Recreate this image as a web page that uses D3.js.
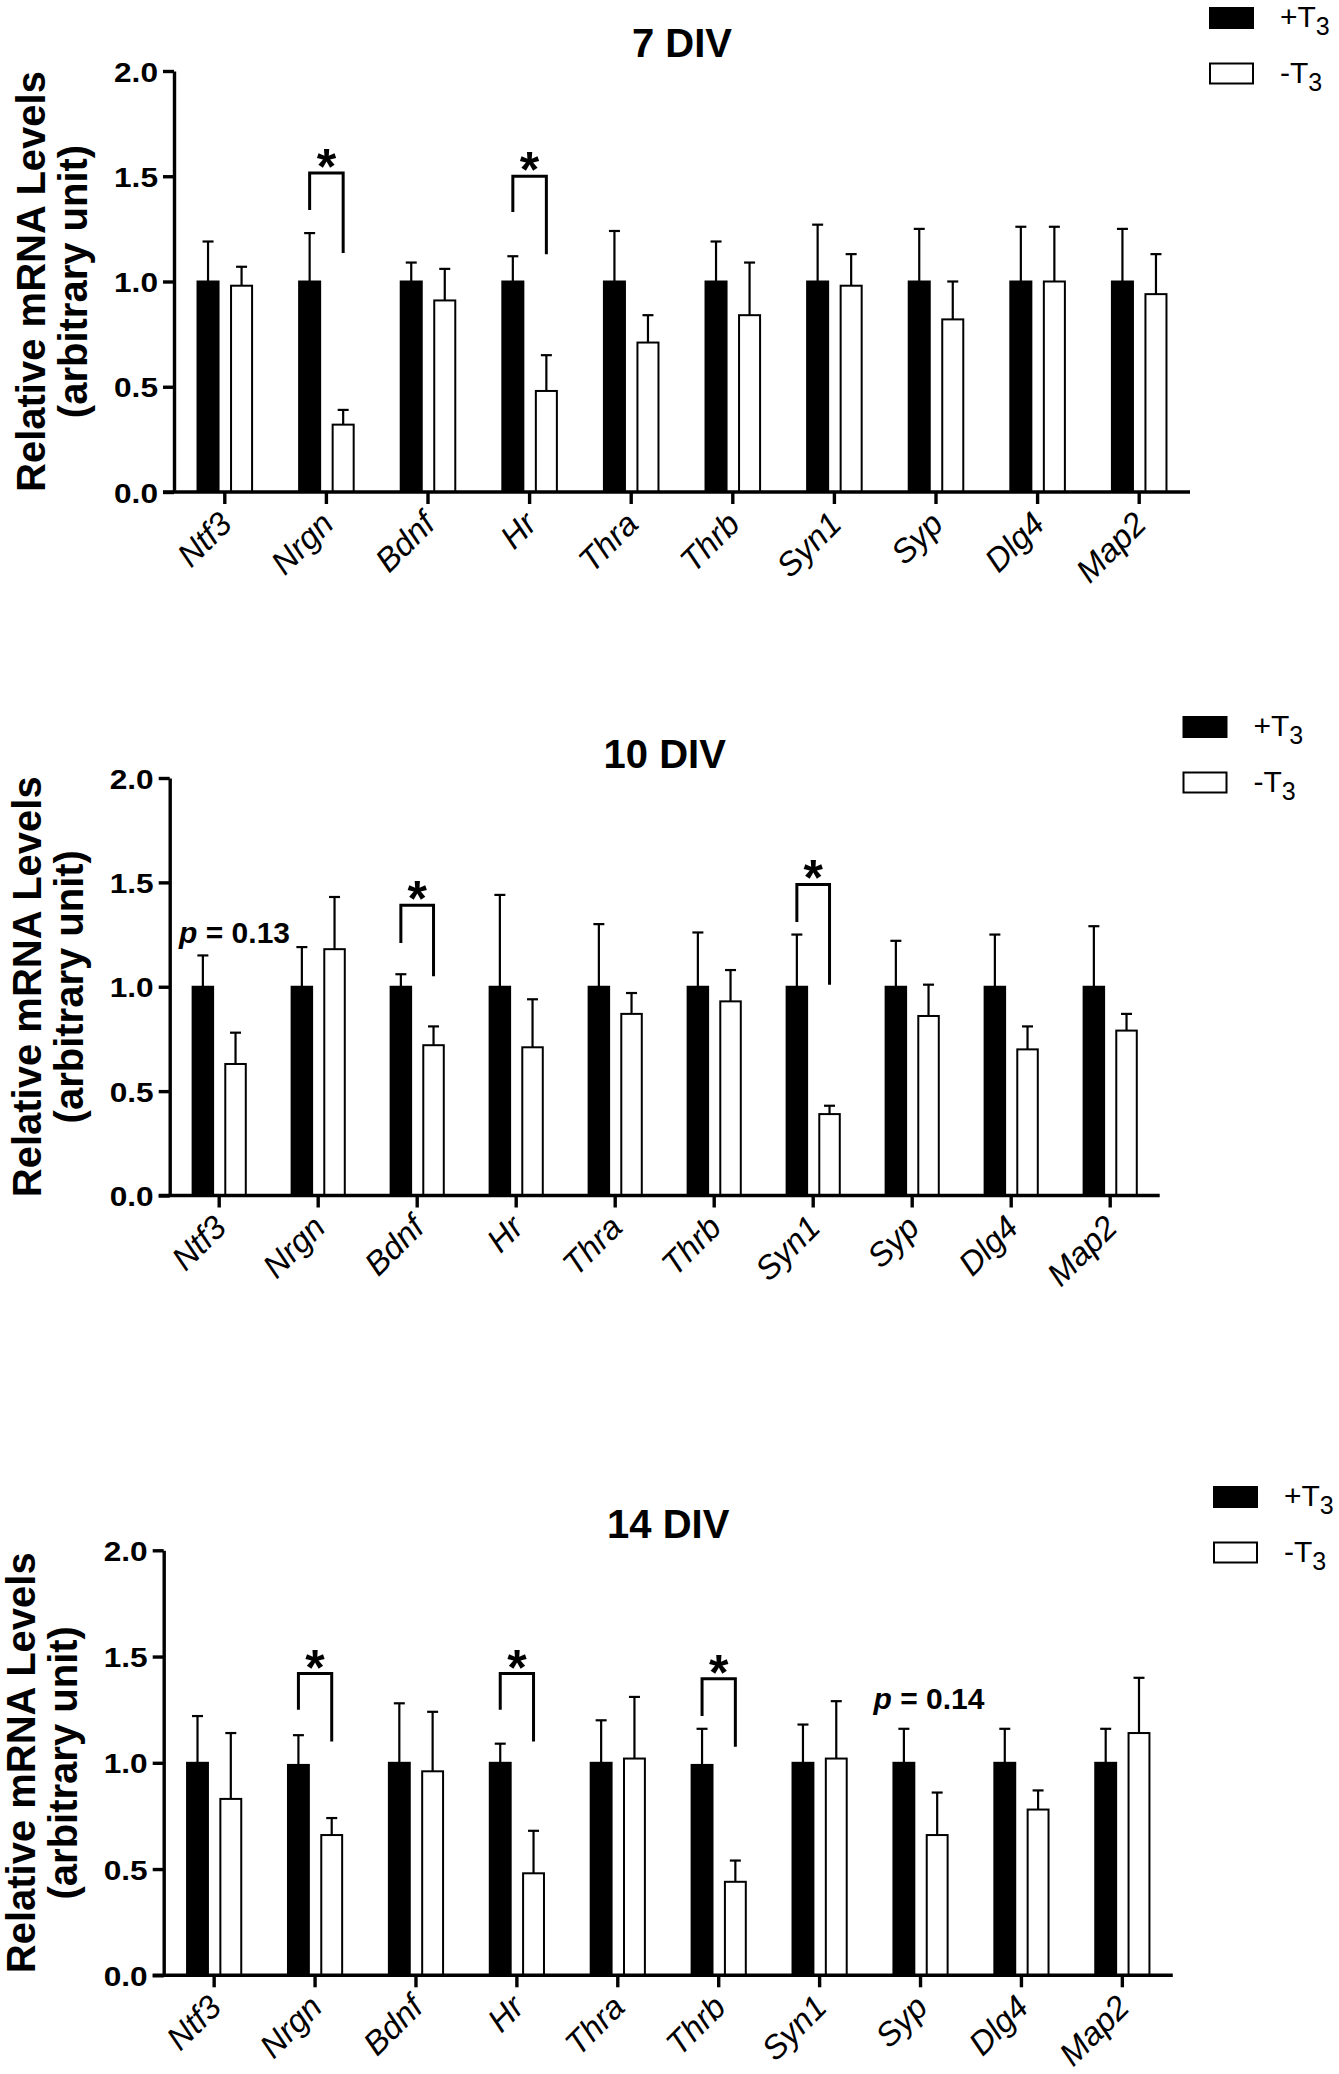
<!DOCTYPE html>
<html>
<head>
<meta charset="utf-8">
<script src="https://cdn.jsdelivr.net/npm/d3@7"></script>
<style>
  html, body { margin: 0; padding: 0; background: #fff; }
  svg { display: block; font-family: "Liberation Sans", Arial, sans-serif; }
</style>
</head>
<body>
<div id="chart"></div>
<script>
// genes along the x axis (same order in all three panels)
const genes = ['Ntf3', 'Nrgn', 'Bdnf', 'Hr', 'Thra', 'Thrb', 'Syn1', 'Syp', 'Dlg4', 'Map2']
const yTicks = [0, 0.5, 1.0, 1.5, 2.0]
const seriesNames = ['+T', '-T']

// 7 DIV
const div7Plus     = [1, 1, 1, 1, 1, 1, 1, 1, 1, 1]
const div7PlusErr  = [0.19, 0.23, 0.09, 0.12, 0.24, 0.19, 0.27, 0.25, 0.26, 0.25]
const div7Minus    = [0.98, 0.32, 0.91, 0.48, 0.71, 0.84, 0.98, 0.82, 1.00, 0.94]
const div7MinusErr = [0.09, 0.07, 0.15, 0.17, 0.13, 0.25, 0.15, 0.18, 0.26, 0.19]
const div7Sig = [
  { gene: 'Nrgn', top: 1.515, left: 1.34, right: 1.135 },
  { gene: 'Hr',   top: 1.50,  left: 1.33, right: 1.13 } ]

// 10 DIV
const div10Plus     = [1, 1, 1, 1, 1, 1, 1, 1, 1, 1]
const div10PlusErr  = [0.15, 0.19, 0.06, 0.44, 0.30, 0.26, 0.25, 0.22, 0.25, 0.29]
const div10Minus    = [0.63, 1.18, 0.72, 0.71, 0.87, 0.93, 0.39, 0.86, 0.70, 0.79]
const div10MinusErr = [0.15, 0.25, 0.09, 0.23, 0.10, 0.15, 0.04, 0.15, 0.11, 0.08]
const div10Sig = [
  { gene: 'Bdnf', top: 1.39, left: 1.21, right: 1.05 },
  { gene: 'Syn1', top: 1.49, left: 1.31, right: 1.01 } ]
const div10Notes = [ { gene: 'Ntf3', value: 1.21, p: '0.13' } ]

// 14 DIV
const div14Plus     = [1, 0.99, 1, 1, 1, 0.99, 1, 1, 1, 1]
const div14PlusErr  = [0.22, 0.14, 0.28, 0.09, 0.20, 0.17, 0.18, 0.16, 0.16, 0.16]
const div14Minus    = [0.83, 0.66, 0.96, 0.48, 1.02, 0.44, 1.02, 0.66, 0.78, 1.14]
const div14MinusErr = [0.31, 0.08, 0.28, 0.20, 0.29, 0.10, 0.27, 0.20, 0.09, 0.26]
const div14Sig = [
  { gene: 'Nrgn', top: 1.42,  left: 1.25, right: 1.10 },
  { gene: 'Hr',   top: 1.42,  left: 1.25, right: 1.10 },
  { gene: 'Thrb', top: 1.395, left: 1.22, right: 1.075 } ]
const div14Notes = [ { gene: 'Syp', value: 1.255, p: '0.14' } ]

// panel layout (pixels)
const panels = [
  { title: '7 DIV',  plus: div7Plus,  plusErr: div7PlusErr,  minus: div7Minus,  minusErr: div7MinusErr,
    sig: div7Sig,  notes: [],
    x0: 174,   x1: 1190,  yTop: 71,   yBot: 492,   titleDy: -14, legX: 1209,   legY: 7,    noteDx: -0.405 },
  { title: '10 DIV', plus: div10Plus, plusErr: div10PlusErr, minus: div10Minus, minusErr: div10MinusErr,
    sig: div10Sig, notes: div10Notes,
    x0: 169.7, x1: 1159.7, yTop: 778, yBot: 1195.5, titleDy: -10, legX: 1182.5, legY: 716,  noteDx: -0.405 },
  { title: '14 DIV', plus: div14Plus, plusErr: div14PlusErr, minus: div14Minus, minusErr: div14MinusErr,
    sig: div14Sig, notes: div14Notes,
    x0: 163.7, x1: 1172.8, yTop: 1550.3, yBot: 1975.3, titleDy: -12, legX: 1213, legY: 1486, noteDx: -0.466 } ]

const W = 1339, H = 2074

const svg = d3.select('#chart').append('svg')
  .attr('width', W).attr('height', H)

function drawPanel(p) {
  let g = svg.append('g'),
      x = d3.scaleBand().domain(genes).range([p.x0, p.x1]).padding(0),
      y = d3.scaleLinear().domain([0, 2]).range([p.yBot, p.yTop]),
      bw = x.bandwidth(),
      barW = bw * 0.207,
      off = bw * 0.165,
      cx = (gene) => x(gene) + bw / 2

  let series = [
    { vals: p.plus,  errs: p.plusErr,  dx: -off, fill: '#000' },
    { vals: p.minus, errs: p.minusErr, dx:  off, fill: '#fff' } ]

  series.forEach((s) => {
    let rows = genes.map((gene, i) => ({ gene, v: s.vals[i], e: s.errs[i] }))

    // error bars first, bars on top
    let eb = g.append('g').attr('stroke', '#000').attr('stroke-width', 2.2)
    eb.selectAll('line.v').data(rows).enter().append('line')
      .attr('x1', (d) => cx(d.gene) + s.dx).attr('x2', (d) => cx(d.gene) + s.dx)
      .attr('y1', (d) => y(d.v)).attr('y2', (d) => y(d.v + d.e))
    eb.selectAll('line.c').data(rows).enter().append('line')
      .attr('x1', (d) => cx(d.gene) + s.dx - 5.5).attr('x2', (d) => cx(d.gene) + s.dx + 5.5)
      .attr('y1', (d) => y(d.v + d.e)).attr('y2', (d) => y(d.v + d.e))

    g.append('g').selectAll('rect').data(rows).enter().append('rect')
      .attr('x', (d) => cx(d.gene) + s.dx - barW / 2)
      .attr('width', barW)
      .attr('y', (d) => y(d.v))
      .attr('height', (d) => y(0) - y(d.v))
      .attr('fill', s.fill)
      .attr('stroke', '#000')
      .attr('stroke-width', 2)
  })

  // y axis
  let ya = g.append('g')
    .attr('transform', `translate(${p.x0},0)`)
    .call(d3.axisLeft(y).tickValues(yTicks).tickFormat(d3.format('.1f'))
            .tickSize(11).tickSizeOuter(0).tickPadding(5))
  ya.select('.domain').attr('stroke-width', 3.4)
  ya.selectAll('.tick line').attr('stroke-width', 3.4)
  ya.selectAll('.tick text')
    .attr('font-size', 28).attr('font-weight', 'bold').attr('fill', '#000')
    .attr('font-family', '"Liberation Sans", Arial, sans-serif')
    .attr('textLength', 44).attr('lengthAdjust', 'spacingAndGlyphs')
    .attr('dy', '0.36em')

  // x axis
  let xa = g.append('g')
    .attr('transform', `translate(0,${p.yBot})`)
    .call(d3.axisBottom(x).tickSize(12).tickSizeOuter(0))
  xa.select('.domain').attr('stroke-width', 3.4)
    .attr('d', `M${p.x0 - 11},0H${p.x1}`)
  xa.selectAll('.tick line').attr('stroke-width', 3.4)
  xa.selectAll('.tick text')
    .attr('x', 0).attr('y', 0).attr('dy', 0)
    .attr('transform', 'translate(9,34) rotate(-45)')
    .attr('text-anchor', 'end')
    .attr('font-size', 33).attr('font-style', 'italic').attr('fill', '#000')
    .attr('font-family', '"Liberation Sans", Arial, sans-serif')

  // y title (two lines)
  let midY = (p.yTop + p.yBot) / 2
  ;[['Relative mRNA Levels', -129], ['(arbitrary unit)', -87]].forEach(([t, dx]) => {
    g.append('text')
      .attr('transform', `translate(${p.x0 + dx},${midY}) rotate(-90)`)
      .attr('text-anchor', 'middle')
      .attr('font-size', 40).attr('font-weight', 'bold')
      .text(t)
  })

  // title
  g.append('text')
    .attr('x', (p.x0 + p.x1) / 2).attr('y', p.yTop + p.titleDy)
    .attr('text-anchor', 'middle')
    .attr('font-size', 40).attr('font-weight', 'bold')
    .text(p.title)

  // significance brackets
  let br = g.append('g')
  p.sig.forEach((s) => {
    let xl = cx(s.gene) - off, xr = cx(s.gene) + off
    br.append('path')
      .attr('d', `M${xl},${y(s.left)}V${y(s.top)}H${xr}V${y(s.right)}`)
      .attr('fill', 'none').attr('stroke', '#000').attr('stroke-width', 3)
    br.append('text')
      .attr('x', (xl + xr) / 2).attr('y', y(s.top) + 11)
      .attr('text-anchor', 'middle')
      .attr('font-size', 50).attr('font-weight', 'bold')
      .text('*')
  })

  // p-value notes
  p.notes.forEach((n) => {
    let t = g.append('text')
      .attr('x', cx(n.gene) + bw * p.noteDx).attr('y', y(n.value))
      .attr('font-size', 30).attr('font-weight', 'bold')
    t.append('tspan').attr('font-style', 'italic').text('p')
    t.append('tspan').text(` = ${n.p}`)
  })

  // legend
  let lg = g.append('g').attr('transform', `translate(${p.legX},${p.legY})`)
  ;[{ fill: '#000', name: seriesNames[0] }, { fill: '#fff', name: seriesNames[1] }].forEach((d, i) => {
    let yy = i * 55.5
    lg.append('rect')
      .attr('x', 1).attr('y', yy + 1).attr('width', 43).attr('height', 20)
      .attr('fill', d.fill).attr('stroke', '#000').attr('stroke-width', 2)
    let t = lg.append('text')
      .attr('x', 71).attr('y', yy + 20)
      .attr('font-size', 30)
    t.append('tspan').text(d.name)
    t.append('tspan').attr('font-size', 25).attr('dy', 8).text('3')
  })
}

panels.forEach(drawPanel)
</script>
</body>
</html>
